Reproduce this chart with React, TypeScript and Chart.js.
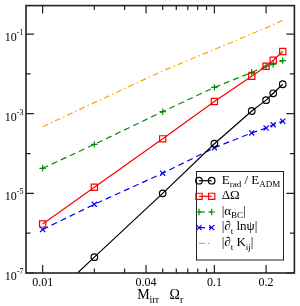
import React, { useEffect, useRef } from 'react';
import { Chart, registerables } from 'chart.js';
Chart.register(...registerables);

// ---- data ----
const xValues = [0.01, 0.02, 0.05, 0.1, 0.165, 0.2, 0.22, 0.25];
const eradValues = [1.5e-8, 2.5e-7, 1.0e-5, 1.76e-4, 1.17e-3, 2.19e-3, 3.26e-3, 5.5e-3];
const dOmegaValues = [1.71e-6, 1.42e-5, 2.34e-4, 2.02e-3, 8.7e-3, 1.56e-2, 2.2e-2, 3.66e-2];
const alphaValues = [4.26e-5, 1.7e-4, 1.13e-3, 4.58e-3, 1.09e-2, 1.56e-2, 1.75e-2, 2.16e-2];
const lnPsiValues = [1.24e-6, 5.3e-6, 3.2e-5, 1.4e-4, 3.29e-4, 4.37e-4, 5.3e-4, 6.5e-4];
const kijValues = [4.72e-4, 1.9e-3, 1.19e-2, 4.1e-2, 0.1016, 0.143, 0.171, 0.223];

const xMajorTicks = [0.01, 0.04, 0.1, 0.2];
const xMajorLabels = ['0.01', '0.04', '0.1', '0.2'];
const xMinorTicks = [0.02, 0.03, 0.05, 0.06, 0.07, 0.08, 0.09];
const yMajorTicks = [1e-7, 1e-5, 1e-3, 1e-1];
const yMajorExponents = ['-7', '-5', '-3', '-1'];
const yMinorTicks = [1e-6, 1e-4, 1e-2];

type Seg = { t: string; s?: 'sub' | 'sup' };
const legendLabels: Seg[][] = [
  [{ t: 'E' }, { t: 'rad', s: 'sub' }, { t: ' / E' }, { t: 'ADM', s: 'sub' }],
  [{ t: 'ΔΩ' }],
  [{ t: '|α' }, { t: 'BC', s: 'sub' }, { t: '|' }],
  [{ t: '|∂' }, { t: 't', s: 'sub' }, { t: ' lnψ|' }],
  [{ t: '|∂' }, { t: 't', s: 'sub' }, { t: ' K' }, { t: 'ij', s: 'sub' }, { t: '|' }],
];
const xTitle: Seg[] = [{ t: 'M' }, { t: 'irr', s: 'sub' }, { t: '   Ω' }, { t: 'r', s: 'sub' }];

const FONT = '"Liberation Serif", "Times New Roman", serif';

function drawRich(ctx: CanvasRenderingContext2D, segs: Seg[], x: number, y: number, main: number, small: number, align: 'left' | 'center' | 'right' = 'left') {
  const widths = segs.map((s) => {
    ctx.font = `${s.s ? small : main}px ${FONT}`;
    return ctx.measureText(s.t).width;
  });
  const total = widths.reduce((a, b) => a + b, 0);
  let cx = align === 'left' ? x : align === 'center' ? x - total / 2 : x - total;
  ctx.textAlign = 'left';
  ctx.textBaseline = 'alphabetic';
  segs.forEach((s, i) => {
    ctx.font = `${s.s ? small : main}px ${FONT}`;
    const dy = s.s === 'sub' ? main * 0.28 : s.s === 'sup' ? -main * 0.55 : 0;
    ctx.fillText(s.t, cx, y + dy);
    cx += widths[i];
  });
}

function drawMarker(ctx: CanvasRenderingContext2D, style: string, x: number, y: number, r: number) {
  ctx.beginPath();
  if (style === 'circle') {
    ctx.arc(x, y, r, 0, Math.PI * 2);
  } else if (style === 'rect') {
    const h = r * Math.SQRT1_2;
    ctx.rect(x - h, y - h, 2 * h, 2 * h);
  } else if (style === 'cross') {
    ctx.moveTo(x - r, y); ctx.lineTo(x + r, y);
    ctx.moveTo(x, y - r); ctx.lineTo(x, y + r);
  } else if (style === 'crossRot') {
    const h = r * Math.SQRT1_2;
    ctx.moveTo(x - h, y - h); ctx.lineTo(x + h, y + h);
    ctx.moveTo(x - h, y + h); ctx.lineTo(x + h, y - h);
  } else if (style === 'line') {
    ctx.moveTo(x - r, y); ctx.lineTo(x + r, y);
  }
  ctx.stroke();
}

const decorPlugin = {
  id: 'decor',
  afterDraw(chart: any) {
    const ctx: CanvasRenderingContext2D = chart.ctx;
    const { left, right, top, bottom } = chart.chartArea;
    const xs = chart.scales.x;
    const ys = chart.scales.y;
    ctx.save();
    ctx.strokeStyle = '#222';
    ctx.fillStyle = '#000';
    ctx.lineWidth = 1.6;
    ctx.setLineDash([]);
    ctx.strokeRect(left, top, right - left, bottom - top);
    ctx.lineWidth = 1.2;
    const major = 8, minor = 4.5;
    const xt = (vals: number[], len: number) => vals.forEach((v) => {
      const p = xs.getPixelForValue(v);
      ctx.beginPath();
      ctx.moveTo(p, bottom); ctx.lineTo(p, bottom - len);
      ctx.moveTo(p, top); ctx.lineTo(p, top + len);
      ctx.stroke();
    });
    const yt = (vals: number[], len: number) => vals.forEach((v) => {
      const p = ys.getPixelForValue(v);
      ctx.beginPath();
      ctx.moveTo(left, p); ctx.lineTo(left + len, p);
      ctx.moveTo(right, p); ctx.lineTo(right - len, p);
      ctx.stroke();
    });
    xt(xMajorTicks, major); xt(xMinorTicks, minor);
    yt(yMajorTicks, major); yt(yMinorTicks, minor);

    // tick labels
    ctx.font = `12px ${FONT}`;
    ctx.textAlign = 'center';
    ctx.textBaseline = 'alphabetic';
    xMajorTicks.forEach((v, i) => {
      ctx.fillText(xMajorLabels[i], xs.getPixelForValue(v), bottom + 12.5);
    });
    yMajorTicks.forEach((v, i) => {
      const p = ys.getPixelForValue(v);
      ctx.font = `8px ${FONT}`;
      const ws = ctx.measureText(yMajorExponents[i]).width;
      ctx.font = `12px ${FONT}`;
      const wm = ctx.measureText('10').width;
      const endX = 23.5;
      ctx.textAlign = 'left';
      ctx.fillText('10', endX - ws - wm, p + 6.8);
      ctx.font = `8px ${FONT}`;
      ctx.fillText(yMajorExponents[i], endX - ws, p + 0.8);
    });

    // axis title
    drawRich(ctx, xTitle, (left + right) / 2, bottom + 26.3, 14, 10, 'center');

    // legend
    const bx = 196.5, by = 171.5, bw = 87, bh = 88.5;
    ctx.fillStyle = '#fff';
    ctx.fillRect(bx, by, bw, bh);
    ctx.strokeStyle = '#222';
    ctx.lineWidth = 1;
    ctx.strokeRect(bx, by, bw, bh);
    chart.data.datasets.forEach((ds: any, i: number) => {
      const cy = 180.7 + 15.65 * i;
      ctx.strokeStyle = ds.borderColor;
      ctx.lineWidth = ds.borderWidth;
      ctx.setLineDash(ds.borderDash || []);
      ctx.beginPath();
      ctx.moveTo(199, cy); ctx.lineTo(211.7, cy);
      ctx.stroke();
      ctx.setLineDash([]);
      ctx.lineWidth = ds.pointBorderWidth;
      if (ds.pointRadius > 0) {
        drawMarker(ctx, ds.pointStyle, 199, cy, ds.pointRadius);
        drawMarker(ctx, ds.pointStyle, 211.7, cy, ds.pointRadius);
      }
      ctx.fillStyle = '#000';
      drawRich(ctx, legendLabels[i], 221.7, cy + 2.8, 13, 9, 'left');
    });
    ctx.restore();
  },
};

export default function App() {
  const ref = useRef<HTMLCanvasElement>(null);
  useEffect(() => {
    document.body.style.margin = '0';
    const mk = (vals: number[]) => xValues.map((x, i) => ({ x, y: vals[i] }));
    const chart = new Chart(ref.current!, {
      type: 'line',
      data: {
        datasets: [
          { data: mk(eradValues), borderColor: '#000000', borderWidth: 1.2, pointStyle: 'circle', pointRadius: 3.3, pointBorderWidth: 1.2, pointBorderColor: '#000000', pointBackgroundColor: 'rgba(0,0,0,0)', borderDash: [] },
          { data: mk(dOmegaValues), borderColor: '#ff0000', borderWidth: 1.2, pointStyle: 'rect', pointRadius: 4.4, pointBorderWidth: 1.2, pointBorderColor: '#ff0000', pointBackgroundColor: 'rgba(0,0,0,0)', borderDash: [] },
          { data: mk(alphaValues), borderColor: '#008b00', borderWidth: 1.2, pointStyle: 'cross', pointRadius: 3.2, pointBorderWidth: 1.2, pointBorderColor: '#008b00', pointBackgroundColor: 'rgba(0,0,0,0)', borderDash: [6, 4] },
          { data: mk(lnPsiValues), borderColor: '#0000ff', borderWidth: 1.2, pointStyle: 'crossRot', pointRadius: 3.6, pointBorderWidth: 1.2, pointBorderColor: '#0000ff', pointBackgroundColor: 'rgba(0,0,0,0)', borderDash: [6, 4] },
          { data: mk(kijValues), borderColor: '#ffa500', borderWidth: 1.2, pointStyle: 'line', pointRadius: 0, pointBorderWidth: 1.2, pointBorderColor: '#ffa500', pointBackgroundColor: 'rgba(0,0,0,0)', borderDash: [6, 3, 1.5, 3] },
        ],
      },
      options: {
        animation: false,
        responsive: false,
        maintainAspectRatio: false,
        layout: { padding: { left: 26, right: 2, top: 1, bottom: 33 } },
        scales: {
          x: { type: 'logarithmic', min: 0.008, max: 0.2923, display: false },
          y: { type: 'logarithmic', min: 1e-7, max: 0.519, display: false },
        },
        plugins: { legend: { display: false }, tooltip: { enabled: false } },
        elements: { line: { tension: 0 } },
      },
      plugins: [decorPlugin],
    } as any);
    return () => chart.destroy();
  }, []);
  return <canvas ref={ref} width={300} height={306} style={{ display: 'block', width: 300, height: 306 }} />;
}
